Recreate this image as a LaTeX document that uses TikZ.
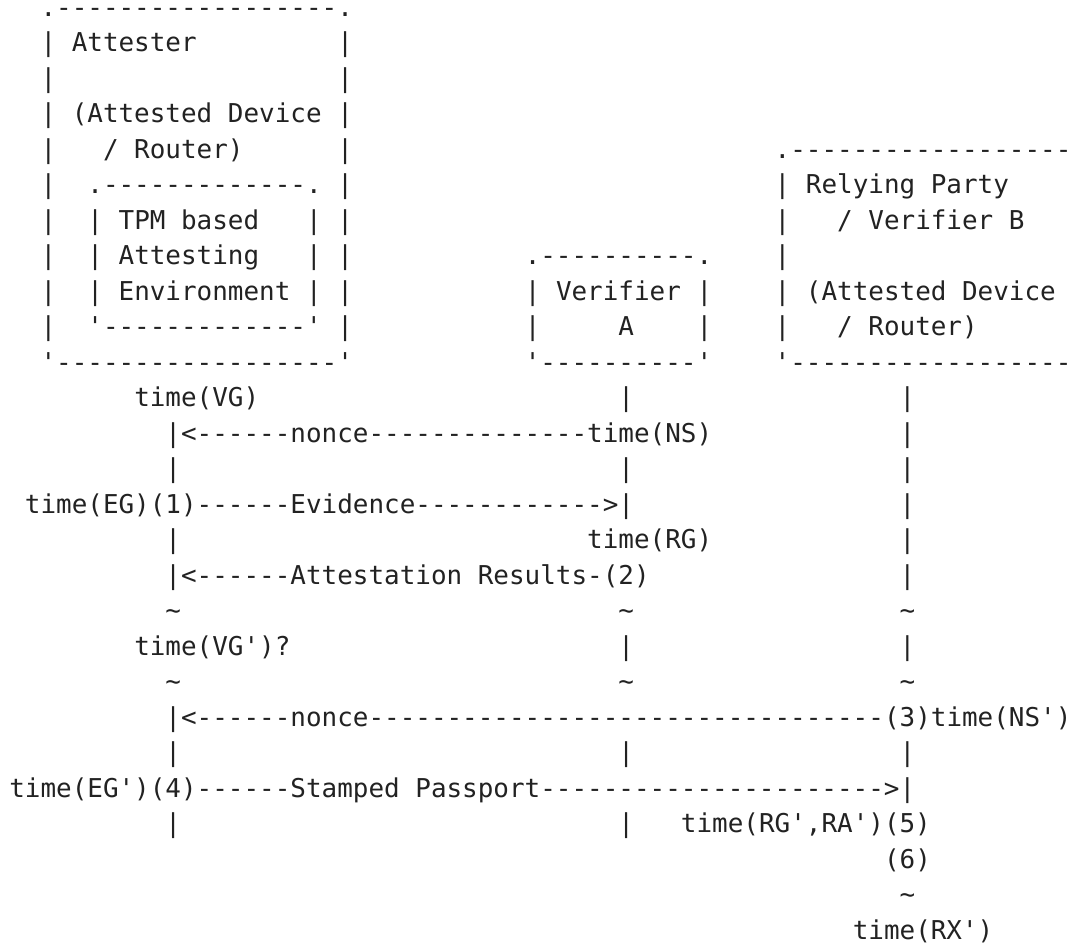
\documentclass[tikz,border=0pt]{standalone}
\usepackage{fontspec}
\setmonofont{DejaVu Sans Mono}
\definecolor{ink}{RGB}{34,34,34}
% one character cell: 0.602em of DejaVu Sans Mono; one text line
\newcommand\asciifont{\ttfamily\fontsize{19.458pt}{26.625pt}\selectfont}
% \tx{name}{column}{line}{text}: text starting in a given cell
\newcommand\tx[4]{\node[asc] (#1) at (#2,#3-1) {#4};}
\tikzset{asc/.style={anchor=base west, inner sep=0pt, outer sep=0pt, font=\asciifont, text=ink}}
\begin{document}
\begin{tikzpicture}[x=11.715pt,y=-26.625pt]
\fill[white] (-0.5948,-0.4563) rectangle (68.291,26.220);
\useasboundingbox (-0.5948,-0.4563) rectangle (68.291,26.220);

% Attester box with the TPM based Attesting Environment inside
\tx{att-top}{2}{1}{.------{}------{}------.}
\tx{att-l2}{2}{2}{|}  \tx{att-name}{4}{2}{Attester}  \tx{att-r2}{21}{2}{|}
\tx{att-l3}{2}{3}{|}  \tx{att-r3}{21}{3}{|}
\tx{att-l4}{2}{4}{|}  \tx{att-dev}{4}{4}{(Attested Device}  \tx{att-r4}{21}{4}{|}
\tx{att-l5}{2}{5}{|}  \tx{att-rtr}{6}{5}{/ Router)}  \tx{att-r5}{21}{5}{|}
\tx{att-l6}{2}{6}{|}  \tx{env-top}{5}{6}{.------{}------{}-.}  \tx{att-r6}{21}{6}{|}
\tx{att-l7}{2}{7}{|}  \tx{env-l7}{5}{7}{|}  \tx{env-tpm}{7}{7}{TPM based}  \tx{env-r7}{19}{7}{|}  \tx{att-r7}{21}{7}{|}
\tx{att-l8}{2}{8}{|}  \tx{env-l8}{5}{8}{|}  \tx{env-att}{7}{8}{Attesting}  \tx{env-r8}{19}{8}{|}  \tx{att-r8}{21}{8}{|}
\tx{att-l9}{2}{9}{|}  \tx{env-l9}{5}{9}{|}  \tx{env-env}{7}{9}{Environment}  \tx{env-r9}{19}{9}{|}  \tx{att-r9}{21}{9}{|}
\tx{att-l10}{2}{10}{|}  \tx{env-bot}{5}{10}{'------{}------{}-'}  \tx{att-r10}{21}{10}{|}
\tx{att-bot}{2}{11}{'------{}------{}------'}

% Verifier A box
\tx{va-top}{33}{8}{.-----{}-----.}
\tx{va-l9}{33}{9}{|}  \tx{va-name}{35}{9}{Verifier}  \tx{va-r9}{44}{9}{|}
\tx{va-l10}{33}{10}{|}  \tx{va-a}{39}{10}{A}  \tx{va-r10}{44}{10}{|}
\tx{va-bot}{33}{11}{'-----{}-----'}

% Relying Party / Verifier B box
\tx{rp-top}{49}{5}{.------{}------{}------}
\tx{rp-l6}{49}{6}{|}  \tx{rp-name}{51}{6}{Relying Party}
\tx{rp-l7}{49}{7}{|}  \tx{rp-ver}{53}{7}{/ Verifier B}
\tx{rp-l8}{49}{8}{|}
\tx{rp-l9}{49}{9}{|}  \tx{rp-dev}{51}{9}{(Attested Device}
\tx{rp-l10}{49}{10}{|}  \tx{rp-rtr}{53}{10}{/ Router)}
\tx{rp-bot}{49}{11}{'------{}------{}------}

% first exchange: background check with Verifier A
\tx{vg}{8}{12}{time(VG)}  \tx{va-12}{39}{12}{|}  \tx{rp-12}{57}{12}{|}
\tx{nonce-a}{10}{13}{|<------{}nonce------{}------{}--}  \tx{ns}{37}{13}{time(NS)}  \tx{rp-13}{57}{13}{|}
\tx{at-14}{10}{14}{|}  \tx{va-14}{39}{14}{|}  \tx{rp-14}{57}{14}{|}
\tx{eg}{1}{15}{time(EG)(1)}  \tx{evidence}{12}{15}{------{}Evidence------{}------{}>|}  \tx{rp-15}{57}{15}{|}
\tx{at-16}{10}{16}{|}  \tx{rg}{37}{16}{time(RG)}  \tx{rp-16}{57}{16}{|}
\tx{results}{10}{17}{|<------{}Attestation Results-(2)}  \tx{rp-17}{57}{17}{|}
\tx{at-18}{10}{18}{\textasciitilde}  \tx{va-18}{39}{18}{\textasciitilde}  \tx{rp-18}{57}{18}{\textasciitilde}
\tx{vg2}{8}{19}{time(VG')?}  \tx{va-19}{39}{19}{|}  \tx{rp-19}{57}{19}{|}
\tx{at-20}{10}{20}{\textasciitilde}  \tx{va-20}{39}{20}{\textasciitilde}  \tx{rp-20}{57}{20}{\textasciitilde}

% second exchange: passport presented to the Relying Party
\tx{nonce-b}{10}{21}{|<------{}nonce------{}------{}------{}------{}------{}---}  \tx{ns2}{56}{21}{(3)time(NS')}
\tx{at-22}{10}{22}{|}  \tx{va-22}{39}{22}{|}  \tx{rp-22}{57}{22}{|}
\tx{eg2}{0}{23}{time(EG')(4)}  \tx{passport}{12}{23}{------{}Stamped Passport------{}------{}------{}---->|}
\tx{at-24}{10}{24}{|}  \tx{va-24}{39}{24}{|}  \tx{ra}{43}{24}{time(RG',RA')(5)}
\tx{step6}{56}{25}{(6)}
\tx{rp-26}{57}{26}{\textasciitilde}
\tx{rx}{54}{27}{time(RX')}
\end{tikzpicture}
\end{document}
